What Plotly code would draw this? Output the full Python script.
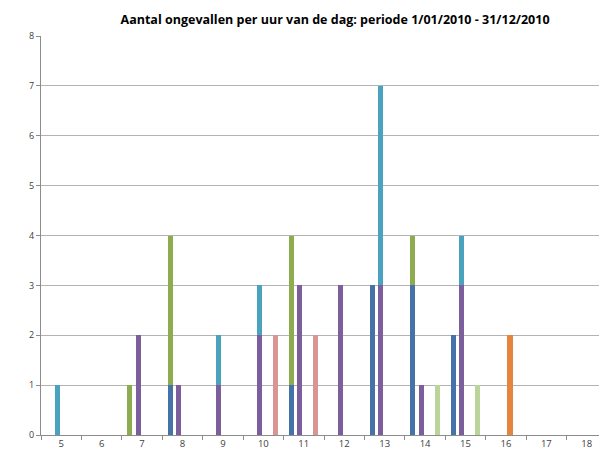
import plotly.graph_objects as go

hours = [5, 6, 7, 8, 9, 10, 11, 12, 13, 14, 15, 16, 17, 18]
tick_labels = [str(h) for h in hours]

# series values per hour
blue = [0, 0, 0, 1, 0, 0, 1, 0, 3, 3, 2, 0, 0, 0]
green = [0, 0, 1, 3, 0, 0, 3, 0, 0, 1, 0, 0, 0, 0]
purple = [0, 0, 2, 1, 1, 2, 3, 3, 3, 1, 3, 0, 0, 0]
teal = [1, 0, 0, 0, 1, 1, 0, 0, 4, 0, 1, 0, 0, 0]
orange = [0, 0, 0, 0, 0, 0, 0, 0, 0, 0, 0, 2, 0, 0]
pink = [0, 0, 0, 0, 0, 2, 2, 0, 0, 0, 0, 0, 0, 0]
lightgreen = [0, 0, 0, 0, 0, 0, 0, 0, 0, 1, 1, 0, 0, 0]

series = [
    ("s1", 1, blue, "#4572A7"),
    ("s2", 1, green, "#8EAB50"),
    ("s3", 2, purple, "#7B5E9B"),
    ("s4", 2, teal, "#4AA3BE"),
    ("s5", 3, orange, "#E5853C"),
    ("s6", 4, pink, "#D99593"),
    ("s7", 4, lightgreen, "#BBD49A"),
]

fig = go.Figure()
for name, slot, vals, col in series:
    xs = [h - 0.5 + slot / 5 for h in hours]
    fig.add_trace(go.Bar(x=xs, y=vals, name=name, marker_color=col,
                         marker_line_width=0, width=0.125, showlegend=False))

fig.update_layout(
    barmode="stack",
    width=599, height=447,
    margin=dict(l=33, r=0, t=28, b=20),
    paper_bgcolor="white", plot_bgcolor="white",
    title=dict(text="<b>Aantal ongevallen per uur van de dag: periode 1/01/2010 - 31/12/2010</b>",
               x=0.546, xanchor="center", y=0.975, yanchor="middle",
               font=dict(family="Open Sans", size=12.5, color="#000000")),
    font=dict(family="Open Sans", size=9, color="#404040"),
)
fig.update_xaxes(
    range=[4.5, 18.5], tickvals=hours, ticktext=tick_labels, ticks="",
    showgrid=False, showline=True, linecolor="#8C8C8C", linewidth=1,
    minor=dict(ticks="outside", tick0=4.5, dtick=1, ticklen=4, tickcolor="#8C8C8C", showgrid=False),
    tickfont=dict(size=9.5, color="#404040"), zeroline=False,
)
fig.update_yaxes(
    range=[0, 8], dtick=1, showgrid=True, gridcolor="#B3B3B3", gridwidth=1,
    showline=True, linecolor="#8C8C8C", ticks="outside", ticklen=4, tickcolor="#8C8C8C",
    tickfont=dict(size=9, color="#404040"), zeroline=False,
)
fig.write_html("out.html")
